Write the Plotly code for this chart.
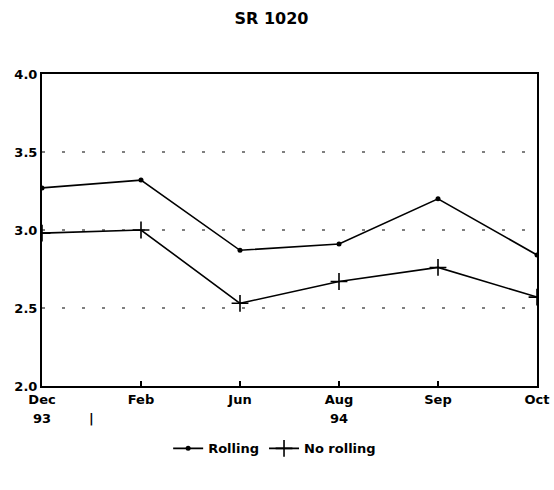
import plotly.graph_objects as go

months = ["Dec", "Feb", "Jun", "Aug", "Sep", "Oct"]
rolling = [3.27, 3.32, 2.87, 2.91, 3.20, 2.84]
no_rolling = [2.98, 3.00, 2.53, 2.67, 2.76, 2.57]
y_ticks = [2.0, 2.5, 3.0, 3.5, 4.0]
year_labels = ["93", "|", "94"]
year_pos = [0, 0.5, 3]

x = list(range(len(months)))
FONT = "DejaVu Sans, Liberation Sans, sans-serif"

fig = go.Figure()
fig.add_trace(go.Scatter(x=x, y=rolling, name="Rolling", mode="lines+markers",
                         line=dict(color="black", width=1.6),
                         marker=dict(symbol="circle", size=5, color="black")))
fig.add_trace(go.Scatter(x=x, y=no_rolling, name="No rolling", mode="lines+markers",
                         line=dict(color="black", width=1.6),
                         marker=dict(symbol="cross-thin", size=12,
                                     line=dict(color="black", width=1.6))))

for gy in y_ticks[1:-1]:
    fig.add_shape(type="line", xref="paper", x0=0, x1=1, yref="y", y0=gy, y1=gy,
                  line=dict(color="black", width=1.2, dash="3px,17px"), layer="below")

for lbl, px in zip(year_labels, year_pos):
    fig.add_annotation(x=px, xref="x", y=-0.105, yref="paper", text=lbl, showarrow=False,
                       font=dict(family=FONT, size=13, color="black", weight="bold"),
                       xanchor="center", yanchor="middle")

fig.update_layout(
    width=554, height=490,
    margin=dict(l=42, r=17, t=74, b=104, autoexpand=False),
    paper_bgcolor="white", plot_bgcolor="white",
    font=dict(family=FONT, size=13, color="black", weight="bold"),
    title=dict(text="SR 1020", x=0.49, xanchor="center", y=0.963, yanchor="middle",
               font=dict(family=FONT, size=16, color="black", weight="bold")),
    showlegend=True,
    legend=dict(orientation="h", x=0.47, xanchor="center", y=-0.2, yanchor="middle",
                font=dict(family=FONT, size=13, color="black", weight="bold"),
                itemwidth=30, tracegroupgap=0),
    xaxis=dict(range=[0, 5], tickvals=x, ticktext=months, showgrid=False,
               showline=True, linecolor="black", linewidth=2, mirror=True,
               ticks="inside", ticklen=5, tickcolor="black", tickwidth=1.5,
               zeroline=False, fixedrange=True, automargin=False),
    yaxis=dict(range=[2.0, 4.0], tickvals=y_ticks, ticktext=[f"{v:.1f}" for v in y_ticks],
               showgrid=False, showline=True, linecolor="black", linewidth=2, mirror=True,
               ticks="", zeroline=False, fixedrange=True, automargin=False),
)

fig.write_html("out.html", config={"displayModeBar": False},
               post_script="document.body.style.margin='0';")
